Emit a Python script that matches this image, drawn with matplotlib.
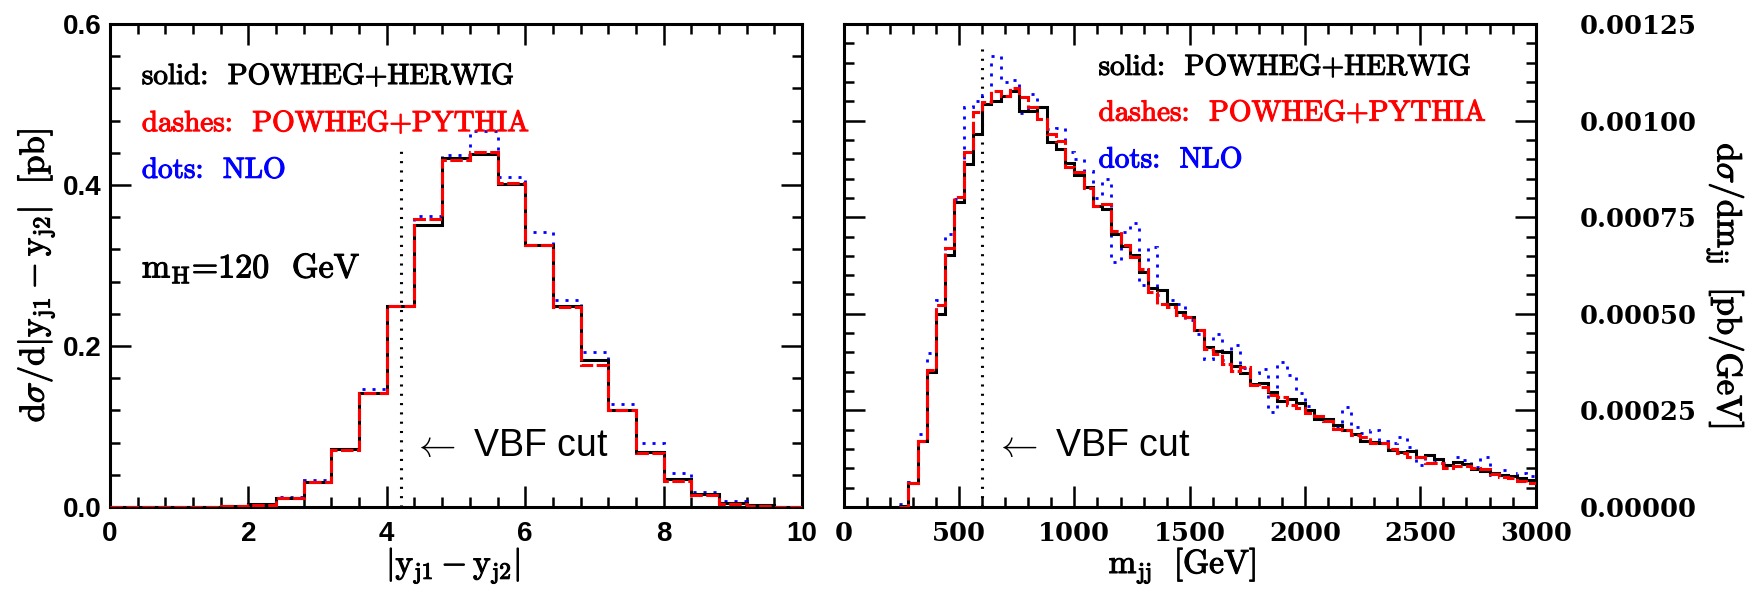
import numpy as np
import matplotlib.pyplot as plt
import matplotlib.patheffects as pe

plt.rcParams['mathtext.fontset'] = 'cm'
plt.rcParams['lines.scale_dashes'] = False

# |y_j1 - y_j2| distribution: 0.4 wide bins from 0 to 10, dsigma/d|dy| in pb
dy_herwig = [0.0, 0.0, 0.0, 0.0005, 0.0015, 0.004, 0.011, 0.031, 0.0715, 0.142,
             0.250, 0.350, 0.433, 0.439, 0.401, 0.326, 0.250, 0.182, 0.121, 0.068,
             0.0345, 0.0165, 0.0055, 0.002, 0.0005]
dy_pythia = [0.0, 0.0, 0.0, 0.0005, 0.001, 0.003, 0.0115, 0.031, 0.071, 0.1415,
             0.250, 0.358, 0.431, 0.441, 0.403, 0.3255, 0.248, 0.177, 0.120, 0.067,
             0.032, 0.0145, 0.004, 0.001, 0.0]
dy_nlo = [0.0, 0.0, 0.0, 0.0005, 0.0015, 0.004, 0.012, 0.033, 0.0725, 0.146,
          0.250, 0.361, 0.437, 0.467, 0.410, 0.342, 0.257, 0.193, 0.128, 0.079,
          0.0425, 0.0186, 0.008, 0.002, 0.0005]

# m_jj distribution: 40 GeV bins starting at 240 GeV, in units of 1e-5 pb/GeV
mjj_start, mjj_width, mjj_unit = 240, 40, 1e-5
mjj_herwig = [0.3, 6.1, 17.2, 35.0, 50.0, 65.1, 78.9, 88.8, 96.5, 104.4,
              105.1, 106.4, 107.7, 102.5, 102.5, 103.6, 94.4, 92.7, 88.9, 85.8,
              82.7, 77.8, 77.2, 70.6, 67.5, 65.3, 60.8, 56.6, 56.1, 52.6,
              50.5, 49.2, 45.7, 41.4, 40.5, 40.1, 36.4, 34.6, 31.8, 32.2,
              29.8, 27.5, 27.9, 26.8, 25.1, 22.9, 22.9, 21.2, 19.9, 18.9,
              17.1, 16.9, 16.5, 14.8, 14.3, 14.6, 12.9, 13.5, 12.3, 10.9,
              11.7, 11.1, 9.8, 9.4, 8.9, 8.3, 8.0, 7.4, 7.0]
mjj_pythia = [0.0, 6.15, 17.2, 35.4, 52.2, 66.9, 80.2, 91.8, 102.1, 104.7,
              107.7, 106.4, 108.4, 106.0, 103.4, 100.4, 96.5, 94.6, 87.9, 86.6,
              82.6, 78.0, 78.4, 71.5, 67.9, 64.7, 61.7, 55.6, 52.6, 51.7,
              49.6, 49.3, 45.7, 40.9, 39.7, 37.1, 35.2, 36.3, 31.5, 31.1,
              29.0, 28.5, 26.4, 25.5, 24.4, 23.5, 22.3, 20.1, 19.9, 18.6,
              18.0, 16.6, 16.5, 15.1, 14.0, 13.0, 13.0, 11.5, 11.3, 10.0,
              10.6, 10.6, 10.2, 9.8, 8.5, 7.7, 7.5, 6.7, 6.2]
mjj_nlo = [0.8, 6.5, 19.0, 39.9, 53.5, 70.7, 79.7, 103.4, 105.1, 106.5,
           116.8, 109.9, 110.5, 102.0, 106.9, 100.4, 97.8, 98.0, 91.9, 90.0,
           87.0, 80.0, 84.8, 63.4, 71.1, 73.5, 57.5, 67.2, 54.8, 53.5,
           52.5, 48.3, 44.9, 38.4, 44.9, 38.0, 41.9, 36.0, 34.7, 35.6,
           24.6, 37.4, 34.1, 29.6, 26.1, 22.9, 22.5, 20.8, 25.8, 20.8,
           19.2, 19.8, 17.1, 16.6, 18.0, 15.6, 10.9, 13.5, 11.7, 11.5,
           12.9, 12.2, 10.4, 13.0, 8.3, 9.6, 8.1, 8.9, 8.0]

vbf_dy_cut = 4.2
vbf_mjj_cut = 600

dy_edges = np.linspace(0, 10, len(dy_herwig) + 1)
mjj_edges = mjj_start + mjj_width * np.arange(len(mjj_herwig) + 1)

fig = plt.figure(figsize=(17.57, 5.99), dpi=100)
ax1 = fig.add_axes([110 / 1757, 92 / 599, 692 / 1757, 483 / 599])
ax2 = fig.add_axes([843.7 / 1757, 92 / 599, 692 / 1757, 483 / 599])

styles = [
    dict(color='blue', lw=2.0, linestyle=(0, (2.2, 5)), zorder=2),
    dict(color='black', lw=2.2, linestyle='-', zorder=3),
    dict(color='red', lw=2.2, linestyle=(0, (9, 2.5)), zorder=4),
]

for vals, st in zip([dy_nlo, dy_herwig, dy_pythia], styles):
    ax1.stairs(vals, dy_edges, baseline=None, **st)
for vals, st in zip([mjj_nlo, mjj_herwig, mjj_pythia], styles):
    ax2.stairs(np.array(vals) * mjj_unit, mjj_edges, baseline=None, **st)

# VBF cut markers
dotted = dict(color='black', lw=2.2, linestyle=(0, (1.5, 5.2)), zorder=1)
ax1.plot([vbf_dy_cut, vbf_dy_cut], [0, 0.45], **dotted)
ax2.plot([vbf_mjj_cut, vbf_mjj_cut], [0, 0.0012], **dotted)
vbf_font = dict(fontsize=27, family='Liberation Sans', va='baseline')
ax1.text(4.36, 0.063, r'$\leftarrow$ VBF cut', **vbf_font)
ax2.text(650, 0.0001327, r'$\leftarrow$ VBF cut', **vbf_font)


def heavy(color):
    return [pe.withStroke(linewidth=0.8, foreground=color)]


# legend-like annotations
note = dict(fontsize=21, family='cmr10', va='baseline')
for ax, x0, ys in [(ax1, 0.46, (0.5255, 0.467, 0.409)),
                   (ax2, 1105, (0.0011185, 0.00100, 0.000879))]:
    ax.text(x0, ys[0], 'solid:  POWHEG+HERWIG', color='black',
            path_effects=heavy('black'), **note)
    ax.text(x0, ys[1], 'dashes:  POWHEG+PYTHIA', color='red',
            path_effects=heavy('red'), **note)
    ax.text(x0, ys[2], 'dots:  NLO', color='blue',
            path_effects=heavy('blue'), **note)
ax1.text(0.46, 0.285, r'm$_\mathrm{H}$=120  GeV', fontsize=24.5, family='cmr10',
         va='baseline', path_effects=heavy('black'))

# axes, ticks and labels
for ax in (ax1, ax2):
    for sp in ax.spines.values():
        sp.set_linewidth(2.2)
    ax.tick_params(which='both', direction='in', top=True, right=True,
                   left=True, bottom=True, width=1.8)
    ax.tick_params(which='major', length=15)
    ax.tick_params(which='minor', length=7.5)

ax1.set_xlim(0, 10)
ax1.set_ylim(0, 0.6)
sans_tick = dict(family='Liberation Sans', fontweight='bold', fontsize=20)
ax1.set_xticks([0, 2, 4, 6, 8, 10], ['0', '2', '4', '6', '8', '10'], **sans_tick)
ax1.set_yticks([0, 0.2, 0.4, 0.6], ['0.0', '0.2', '0.4', '0.6'], **sans_tick)
ax1.set_xticks(np.arange(0, 10.01, 0.4), minor=True)
ax1.set_yticks(np.arange(0, 0.601, 0.04), minor=True)
ax1.tick_params(axis='x', pad=10)
ax1.tick_params(axis='y', pad=6)

ax2.set_xlim(0, 3000)
ax2.set_ylim(0, 0.00125)
serif_tick = dict(family='DejaVu Serif', fontweight='bold', fontsize=18.5)
ax2.set_xticks([0, 500, 1000, 1500, 2000, 2500, 3000],
               ['0', '500', '1000', '1500', '2000', '2500', '3000'], **serif_tick)
ax2.set_yticks([0, 0.00025, 0.0005, 0.00075, 0.001, 0.00125],
               ['0.00000', '0.00025', '0.00050', '0.00075', '0.00100', '0.00125'],
               **serif_tick)
ax2.set_xticks(np.arange(0, 3001, 100), minor=True)
ax2.set_yticks(np.arange(0, 0.001251, 0.00005), minor=True)
ax2.tick_params(axis='y', labelleft=False, labelright=True, pad=32)
ax2.tick_params(axis='x', pad=10)

label = dict(ha='center', va='center', fontsize=25, path_effects=heavy('black'))
fig.text(0.0205, 0.54, r'$\mathrm{d}\sigma/\mathrm{d|y_{j1}-y_{j2}|\ \ [pb]}$',
         rotation=90, **label)
label['fontsize'] = 24
fig.text(0.258, 0.056, r'$\mathrm{|y_{j1}-y_{j2}|}$', **label)
fig.text(0.673, 0.056, r'$\mathrm{m_{jj}\ \ [GeV]}$', **label)
label['fontsize'] = 25
fig.text(0.982, 0.5225, r'$\mathrm{d}\sigma/\mathrm{dm_{jj}\ \ [pb/GeV]}$',
         rotation=270, **label)

fig.savefig('out.png', dpi=100)
